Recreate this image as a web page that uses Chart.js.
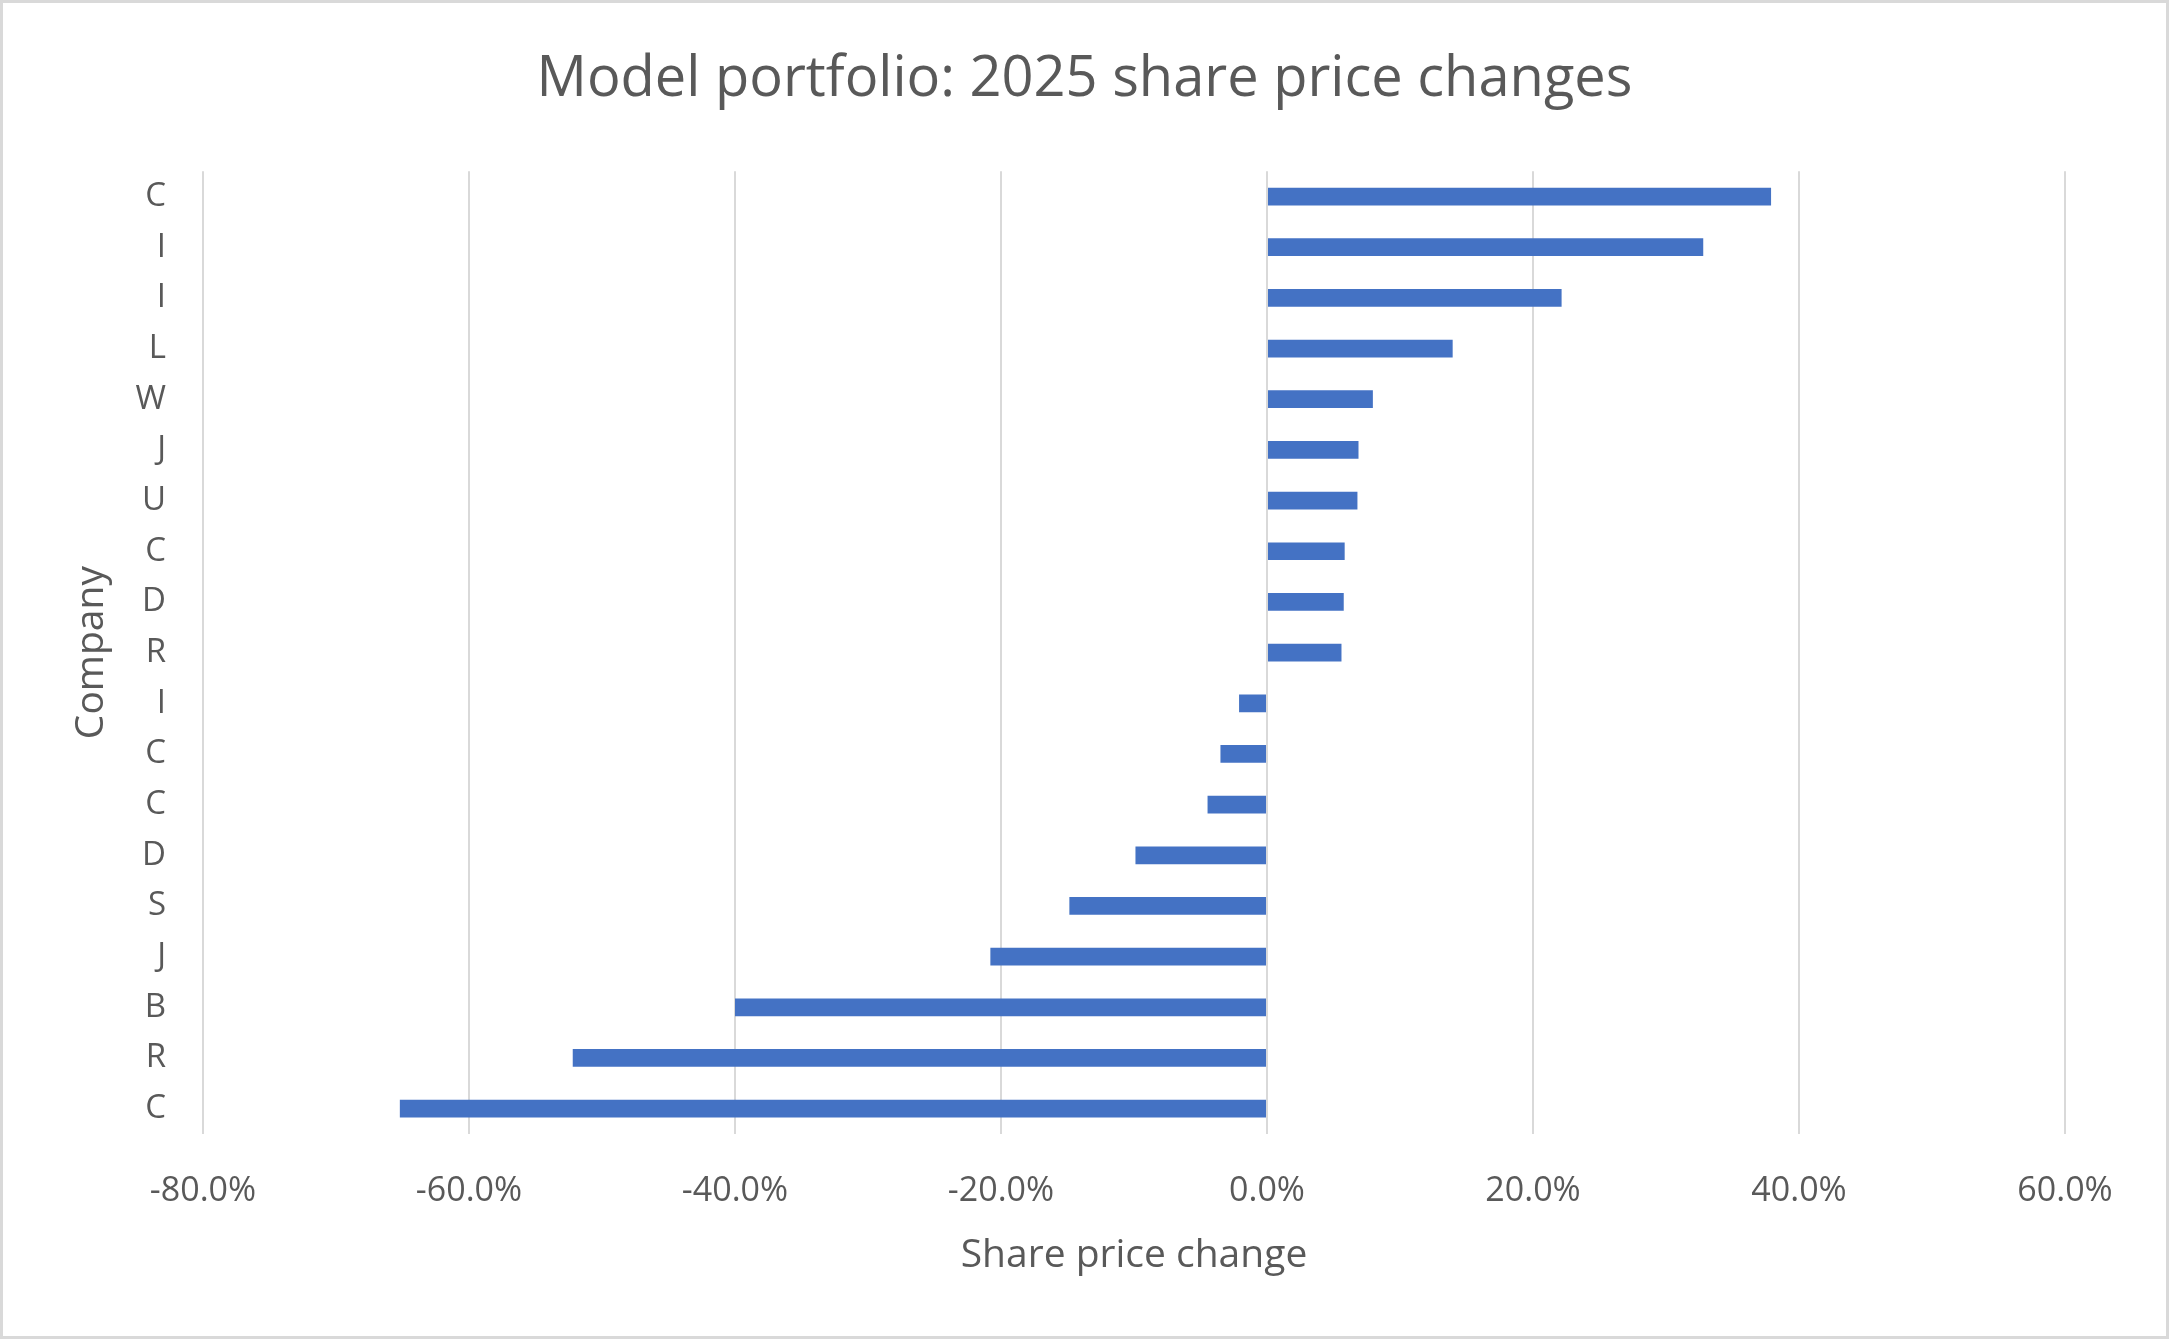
<!DOCTYPE html>
<html>
<head>
<meta charset="utf-8">
<script src="https://cdn.jsdelivr.net/npm/chart.js@4"></script>
<style>
  html, body { margin: 0; padding: 0; background: #ffffff; }
  #wrap { position: relative; width: 2169px; height: 1339px; overflow: hidden; }
  #frame { position: absolute; left: 0; top: 0; width: 2169px; height: 1339px; box-sizing: border-box; border: 3px solid #d9d9d9; pointer-events: none; }
  canvas { display: block; }
</style>
</head>
<body>
<div id="wrap">
  <canvas id="c" width="2169" height="1339"></canvas>
  <div id="frame"></div>
</div>
<script>
const chartTitle = 'Model portfolio: 2025 share price changes';
const xAxisTitle = 'Share price change';
const yAxisTitle = 'Company';
const companies = ['C', 'I', 'I', 'L', 'W', 'J', 'U', 'C', 'D', 'R', 'I', 'C', 'C', 'D', 'S', 'J', 'B', 'R', 'C'];
const priceChange = [37.9, 32.8, 22.15, 13.96, 7.96, 6.88, 6.8, 5.84, 5.77, 5.6, -2.1, -3.5, -4.47, -9.89, -14.86, -20.8, -40.0, -52.2, -65.2];
const xMin = -80, xMax = 60, xStep = 20;

const textColor = '#595959';
const fontFamily = '"Open Sans", "Noto Sans", sans-serif';

new Chart(document.getElementById('c'), {
  type: 'bar',
  data: {
    labels: companies,
    datasets: [{
      label: xAxisTitle,
      data: priceChange,
      backgroundColor: '#4472C4',
      borderWidth: 0,
      barPercentage: 0.35,
      categoryPercentage: 1.0
    }]
  },
  options: {
    indexAxis: 'y',
    responsive: false,
    animation: false,
    devicePixelRatio: 1,
    layout: { padding: 0 },
    plugins: {
      legend: { display: false },
      tooltip: { enabled: false },
      title: {
        display: true,
        text: chartTitle,
        color: textColor,
        font: { family: fontFamily, size: 56, weight: 'normal', lineHeight: 1.2 },
        padding: { top: 46, bottom: 58 }
      }
    },
    scales: {
      x: {
        type: 'linear',
        min: xMin,
        max: xMax,
        afterFit: (s) => { s.height = 205; },
        ticks: {
          stepSize: xStep,
          color: textColor,
          padding: 37,
          font: { family: fontFamily, size: 34, lineHeight: 1.2 },
          callback: (v) => v.toFixed(1) + '%'
        },
        grid: { color: '#d9d9d9', lineWidth: 2, drawTicks: false },
        border: { display: false },
        title: {
          display: true,
          text: xAxisTitle,
          color: textColor,
          font: { family: fontFamily, size: 39, lineHeight: 1.2 },
          padding: { top: 0, bottom: 60 }
        }
      },
      y: {
        type: 'category',
        afterFit: (s) => { s.width = 203; },
        ticks: {
          color: textColor,
          padding: 37,
          autoSkip: false,
          font: { family: fontFamily, size: 33, lineHeight: 1.2 }
        },
        grid: { display: false, drawTicks: false },
        border: { display: false },
        title: {
          display: true,
          text: yAxisTitle,
          color: textColor,
          font: { family: fontFamily, size: 39, lineHeight: 1.2 },
          padding: { top: 68, bottom: 0 }
        }
      },
      rightSpace: {
        type: 'linear',
        position: 'right',
        display: true,
        afterFit: (s) => { s.width = 104; },
        ticks: { display: false },
        grid: { display: false, drawTicks: false },
        border: { display: false },
        title: { display: false }
      }
    }
  }
});
</script>
</body>
</html>
